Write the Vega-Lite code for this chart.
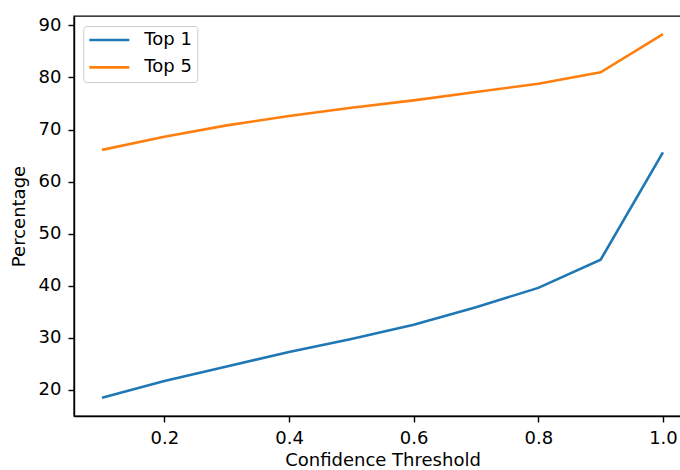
{
  "$schema": "https://vega.github.io/schema/vega-lite/v6.json",
  "autosize": {"type": "none"},
  "width": 617,
  "height": 400,
  "padding": {"left": 74, "top": 16, "right": 0, "bottom": 54},
  "background": "white",
  "config": {
    "font": "DejaVu Sans",
    "view": {"stroke": "#000000", "strokeWidth": 1.4},
    "axis": {
      "grid": false,
      "domainColor": "#000000",
      "domainWidth": 1.4,
      "tickColor": "#000000",
      "tickWidth": 1.4,
      "tickSize": 6,
      "labelFont": "DejaVu Sans",
      "labelFontSize": 18,
      "labelColor": "#000000",
      "titleFont": "DejaVu Sans",
      "titleFontSize": 18,
      "titleFontWeight": "normal",
      "titleColor": "#000000",
      "labelPadding": 7
    },
    "legend": {
      "labelFont": "DejaVu Sans",
      "labelFontSize": 18,
      "labelColor": "#000000"
    }
  },
  "data": {
    "values": [
      {"threshold": 0.1, "series": "Top 1", "percentage": 18.5},
      {"threshold": 0.2, "series": "Top 1", "percentage": 21.7},
      {"threshold": 0.3, "series": "Top 1", "percentage": 24.5},
      {"threshold": 0.4, "series": "Top 1", "percentage": 27.3},
      {"threshold": 0.5, "series": "Top 1", "percentage": 29.8},
      {"threshold": 0.6, "series": "Top 1", "percentage": 32.5},
      {"threshold": 0.7, "series": "Top 1", "percentage": 35.9},
      {"threshold": 0.8, "series": "Top 1", "percentage": 39.6},
      {"threshold": 0.9, "series": "Top 1", "percentage": 45.0},
      {"threshold": 1.0, "series": "Top 1", "percentage": 65.6},
      {"threshold": 0.1, "series": "Top 5", "percentage": 66.1},
      {"threshold": 0.2, "series": "Top 5", "percentage": 68.6},
      {"threshold": 0.3, "series": "Top 5", "percentage": 70.8},
      {"threshold": 0.4, "series": "Top 5", "percentage": 72.6},
      {"threshold": 0.5, "series": "Top 5", "percentage": 74.2},
      {"threshold": 0.6, "series": "Top 5", "percentage": 75.6},
      {"threshold": 0.7, "series": "Top 5", "percentage": 77.2},
      {"threshold": 0.8, "series": "Top 5", "percentage": 78.8},
      {"threshold": 0.9, "series": "Top 5", "percentage": 81.0},
      {"threshold": 1.0, "series": "Top 5", "percentage": 88.3}
    ]
  },
  "mark": {"type": "line", "strokeWidth": 2.6, "clip": true},
  "encoding": {
    "x": {
      "field": "threshold",
      "type": "quantitative",
      "scale": {"domain": [0.055, 1.045], "nice": false, "zero": false},
      "axis": {
        "title": "Confidence Threshold",
        "values": [0.2, 0.4, 0.6, 0.8, 1.0],
        "format": ".1f",
        "titlePadding": 4
      }
    },
    "y": {
      "field": "percentage",
      "type": "quantitative",
      "scale": {"domain": [15.0, 91.8], "nice": false, "zero": false},
      "axis": {
        "title": "Percentage",
        "values": [20, 30, 40, 50, 60, 70, 80, 90],
        "format": "d",
        "titlePadding": 10
      }
    },
    "color": {
      "field": "series",
      "type": "nominal",
      "scale": {"domain": ["Top 1", "Top 5"], "range": ["#1f77b4", "#ff7f0e"]},
      "legend": {
        "title": null,
        "orient": "none",
        "legendX": 9.3,
        "legendY": 10,
        "symbolType": "M-1.6,0H6.4",
        "symbolSize": 100,
        "symbolStrokeWidth": 2.6,
        "symbolFillColor": "transparent",
        "labelOffset": 38,
        "rowPadding": 9.4,
        "padding": 5,
        "strokeColor": "#cccccc",
        "fillColor": "rgba(255,255,255,0.8)",
        "cornerRadius": 3
      }
    }
  }
}
